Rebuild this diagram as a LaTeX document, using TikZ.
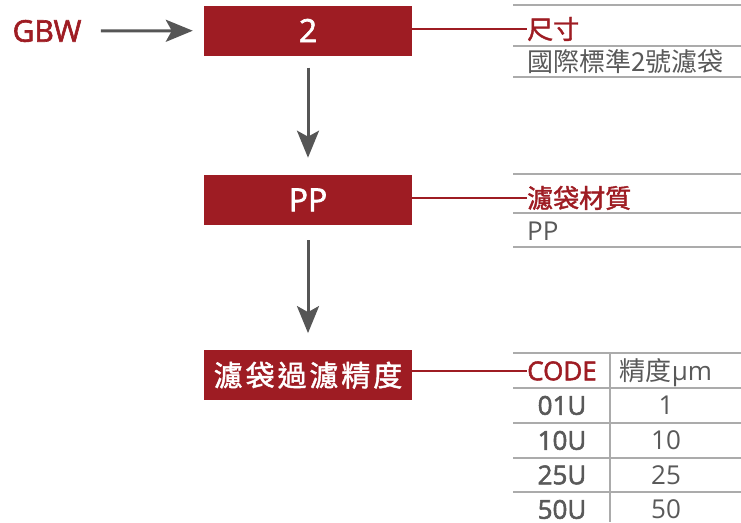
\documentclass[tikz,border=0pt]{standalone}
\usepackage{fontspec}
\setmainfont{Open Sans}
\newfontfamily\semib{Open Sans}[FakeBold=2]
\newfontfamily\cjk{Noto Sans CJK TC}
\newfontfamily\cjkmed{Noto Sans CJK TC}[FakeBold=1.5]
\usetikzlibrary{positioning}
\usetikzlibrary{arrows.meta}

\definecolor{brandred}{HTML}{9E1C23}
\definecolor{txtgray}{HTML}{595959}
\definecolor{rulegray}{HTML}{ABABAB}
\definecolor{arrowgray}{HTML}{565656}

\tikzset{
  codebox/.style={fill=brandred, text=white, minimum width=208pt, minimum height=50pt, inner sep=0pt},
  flow/.style={draw=arrowgray, line width=3pt, -{Stealth[length=27pt,width=22pt,inset=6pt]}, shorten <=15pt, shorten >=17pt},
  link/.style={draw=brandred, line width=1.2pt},
  rule/.style={draw=rulegray, line width=1.6pt},
  head/.style={text=brandred, inner sep=0pt, anchor=west, font=\fontsize{26}{26}\selectfont},
  item/.style={text=txtgray, inner sep=0pt, anchor=west, font=\fontsize{26}{26}\selectfont},
  cell/.style={text=txtgray, inner sep=0pt, text height=18.5pt, text depth=0pt, font=\fontsize{26}{26}\selectfont}
}

\begin{document}
\begin{tikzpicture}[x=1pt, y=-1pt]
  \useasboundingbox (0,0) rectangle (741,522);

  % Define nodes
  \node[text=brandred, font=\fontsize{30}{30}\selectfont\semib] (gbw) at (47,31) {GBW};
  \node[codebox, font=\fontsize{32}{32}\selectfont\semib] (size) at (308,30.5) {2};
  \node[codebox, font=\fontsize{32}{32}\selectfont\semib, below=119pt of size] (material) {PP};
  \node[codebox, font=\fontsize{29}{29}\selectfont, below=125pt of material] (grade) {\cjkmed\addfontfeature{LetterSpace=10}濾袋過濾精度};

  % Size
  \node[head] (sizehead) at (527,29) {\cjkmed 尺寸};
  \node[item] (sizeval) at (527,62) {\cjk 國際標準2號濾袋};

  % Material
  \node[head] (materialhead) at (527,198) {\cjkmed 濾袋材質};
  \node[item] (materialval) at (527,231) {PP};

  % Grade table
  \node[cell, text=brandred, font=\fontsize{26}{26}\selectfont\semib] (codehead) at (562,371) {CODE};
  \node[cell] (gradehead) at (666,371) {{\cjk 精度}μm};
  \node[cell, font=\fontsize{26}{26}\selectfont\semib] (code1) at (562,405.5) {01U};
  \node[cell] (val1) at (666,405.5) {1};
  \node[cell, font=\fontsize{26}{26}\selectfont\semib] (code2) at (562,440.5) {10U};
  \node[cell] (val2) at (666,440.5) {10};
  \node[cell, font=\fontsize{26}{26}\selectfont\semib] (code3) at (562,475) {25U};
  \node[cell] (val3) at (666,475) {25};
  \node[cell, font=\fontsize{26}{26}\selectfont\semib] (code4) at (562,509.5) {50U};
  \node[cell] (val4) at (666,509.5) {50};

  % Connect the nodes
  \draw[flow, shorten <=16pt, shorten >=11pt] (gbw) -- (size);
  \draw[flow, shorten <=12pt] (size) -- (material);
  \draw[flow] (material) -- (grade);
  \draw[link] (size.east |- sizehead.west) -- (sizehead.west);
  \draw[link] (material.east |- materialhead.west) -- (materialhead.west);
  \draw[link] (grade.east |- codehead.west) -- (codehead.west);

  % Rules
  \draw[rule] (513,5) -- (741,5);
  \draw[rule] (513,46) -- (741,46);
  \draw[rule] (513,77) -- (741,77);
  \draw[rule] (513,174) -- (741,174);
  \draw[rule] (513,213) -- (741,213);
  \draw[rule] (513,247) -- (741,247);
  \draw[rule] (513,353) -- (741,353);
  \draw[rule] (513,388) -- (741,388);
  \draw[rule] (513,423) -- (741,423);
  \draw[rule] (513,458) -- (741,458);
  \draw[rule] (513,492) -- (741,492);
  \draw[rule] (610,353) -- (610,522);

\end{tikzpicture}
\end{document}
